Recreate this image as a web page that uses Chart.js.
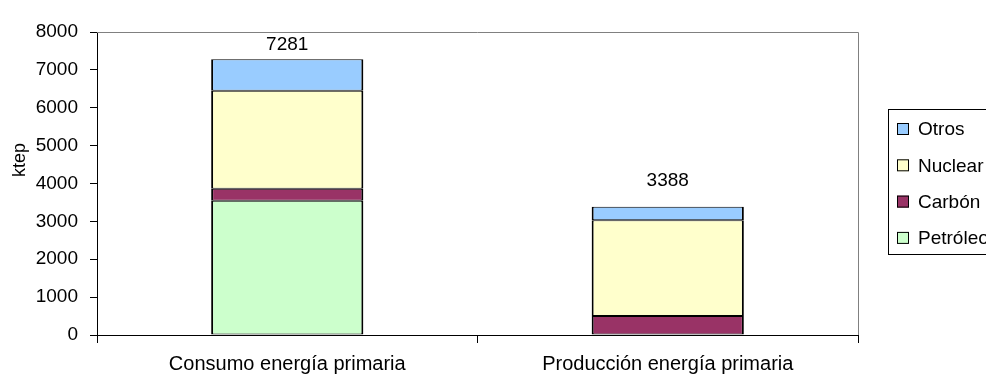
<!DOCTYPE html>
<html>
<head>
<meta charset="utf-8">
<script src="https://cdn.jsdelivr.net/npm/chart.js@4"></script>
<style>
  html, body { margin: 0; padding: 0; background: #fff; }
  #wrap { width: 986px; height: 379px; position: relative; }
</style>
</head>
<body>
<div id="wrap"><canvas id="myChart"></canvas></div>
<script>
// categories and stacked series (ktep)
const categories = ['Consumo energía primaria', 'Producción energía primaria']
const petroleo = [3546, 0]
const carbon = [317, 502]
const nuclear = [2587, 2526]
const otros = [831, 360]
const yTicks = [0, 1000, 2000, 3000, 4000, 5000, 6000, 7000, 8000]

const FONT = "'Liberation Sans', Arial, sans-serif"

// plot frame: grey top/right edges, axis lines stay black
const frameLines = {
    id: 'frameLines',
    beforeDatasetsDraw(chart) {
        const { ctx, chartArea: a } = chart
        ctx.save()
        ctx.strokeStyle = '#808080'
        ctx.lineWidth = 1
        ctx.beginPath()
        ctx.moveTo(a.left, a.top + 0.5)
        ctx.lineTo(a.right + 0.5, a.top + 0.5)
        ctx.lineTo(a.right + 0.5, a.bottom)
        ctx.stroke()
        ctx.restore()
    }
}

// totals written above every stack, plus the y title
const totalsAndTitle = {
    id: 'totalsAndTitle',
    afterDatasetsDraw(chart) {
        const { ctx, chartArea: a } = chart
        const x = chart.scales.x, y = chart.scales.y
        ctx.save()
        ctx.fillStyle = '#000'
        ctx.font = '19px ' + FONT
        ctx.textAlign = 'center'
        ctx.textBaseline = 'middle'
        categories.forEach((c, i) => {
            let total = 0
            chart.data.datasets.forEach(ds => total += ds.data[i])
            let py = Math.max(a.top + 13, y.getPixelForValue(total) - 26)
            ctx.fillText(String(total), x.getPixelForValue(i), py)
        })
        ctx.translate(20, 160)
        ctx.rotate(-Math.PI / 2)
        ctx.font = '18px ' + FONT
        ctx.fillText('ktep', 0, 0)
        ctx.restore()
    }
}

// boxed legend on the right, top series first
const boxLegend = {
    id: 'boxLegend',
    afterDraw(chart) {
        const ctx = chart.ctx
        const items = chart.data.datasets.slice().reverse()
        ctx.save()
        ctx.strokeStyle = '#000'
        ctx.lineWidth = 1
        ctx.strokeRect(888.5, 109.5, 120, 145)
        ctx.font = '19px ' + FONT
        ctx.textBaseline = 'middle'
        ctx.textAlign = 'left'
        items.forEach((ds, i) => {
            const cy = 129 + i * 36.3
            ctx.fillStyle = ds.backgroundColor
            ctx.fillRect(897, cy - 6, 12, 12)
            ctx.strokeRect(897.5, cy - 5.5, 11, 11)
            ctx.fillStyle = '#000'
            ctx.fillText(ds.label, 918, cy + 1)
        })
        ctx.restore()
    }
}

const mkSet = (label, data, color) => ({
    label: label,
    data: data,
    backgroundColor: color,
    borderColor: '#000',
    borderWidth: { top: 1, bottom: 1, left: 2, right: 2 },
    borderSkipped: false,
    inflateAmount: 0,
    categoryPercentage: 1,
    barPercentage: 0.4
})

const config = {
    type: 'bar',
    data: {
        labels: categories,
        datasets: [
            mkSet('Petróleo', petroleo, '#CCFFCC'),
            mkSet('Carbón', carbon, '#993366'),
            mkSet('Nuclear', nuclear, '#FFFFCC'),
            mkSet('Otros', otros, '#99CCFF')
        ]
    },
    options: {
        responsive: true,
        maintainAspectRatio: false,
        animation: false,
        layout: { padding: { top: 32, right: 128, left: 0, bottom: 0 } },
        plugins: { legend: { display: false }, tooltip: { enabled: false } },
        scales: {
            x: {
                stacked: true,
                grid: { display: true, drawOnChartArea: false, color: '#000', tickLength: 8, offset: true },
                border: { display: true, color: '#000', width: 1 },
                ticks: { color: '#000', font: { family: FONT, size: 20 }, padding: 9, maxRotation: 0 },
                afterFit(s) { s.height = 44 }
            },
            y: {
                stacked: true,
                min: 0,
                max: 8000,
                afterBuildTicks(s) { s.ticks = yTicks.map(v => ({ value: v })) },
                grid: { display: true, drawOnChartArea: false, color: '#000', tickLength: 7 },
                border: { display: true, color: '#000', width: 1 },
                ticks: { color: '#000', font: { family: FONT, size: 19 }, padding: 12, callback: v => String(v) },
                afterFit(s) { s.width = 97 }
            }
        }
    },
    plugins: [frameLines, totalsAndTitle, boxLegend]
}

const myChart = new Chart(document.getElementById('myChart'), config)
</script>
</body>
</html>
